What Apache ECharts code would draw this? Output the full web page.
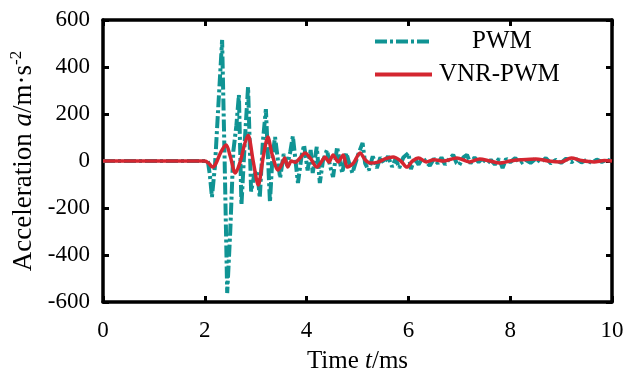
<!DOCTYPE html>
<html>
<head>
<meta charset="utf-8">
<script src="https://cdn.jsdelivr.net/npm/echarts@6/dist/echarts.min.js"></script>
<style>html,body{margin:0;padding:0;background:#fff}#c{width:624px;height:376px}</style>
</head>
<body>
<div id="c"></div>
<script>
var xTicks = [0, 2, 4, 6, 8, 10];
var yTicks = [-600, -400, -200, 0, 200, 400, 600];
var seriesNames = ['PWM', 'VNR-PWM'];

var pwmT = [0, 2.0, 2.06, 2.10, 2.14, 2.2, 2.27, 2.34, 2.39, 2.44, 2.5, 2.56, 2.62, 2.67, 2.72, 2.79, 2.85, 2.91, 2.97, 3.03, 3.08, 3.14, 3.2, 3.28, 3.33, 3.38, 3.48, 3.55, 3.62, 3.68, 3.73, 3.83, 3.9, 3.95, 4.02, 4.08, 4.12, 4.2, 4.26, 4.32, 4.4, 4.46, 4.52, 4.6, 4.65, 4.7, 4.78, 4.85, 4.9, 5.0, 5.1, 5.15, 5.22, 5.3, 5.38, 5.45, 5.52, 5.6, 5.68, 5.75, 5.82, 5.9, 6.0, 6.05, 6.12, 6.2, 6.28, 6.35, 6.42, 6.5, 6.58, 6.65, 6.72, 6.8, 6.88, 6.95, 7.0, 7.08, 7.15, 7.22, 7.3, 7.38, 7.45, 7.55, 7.62, 7.7, 7.78, 7.85, 7.92, 8.0, 8.1, 8.2, 8.3, 8.4, 8.5, 8.6, 8.7, 8.8, 8.9, 9.0, 9.1, 9.2, 9.3, 9.4, 9.5, 9.6, 9.7, 9.8, 9.9, 10];
var pwmA = [0, 0, 0, -60, -153, -20, 250, 515, 0, -562, -300, 40, 150, 281, -187, 100, 315, -130, -60, -40, -157, 80, 221, -175, 20, 102, -72, 30, -20, 40, 106, -94, 20, 68, -40, 47, -51, 60, -94, 0, 47, -20, -68, 60, 0, -51, 34, -20, -51, 20, 77, -10, -40, 20, -30, 15, -10, 20, -25, 10, -30, 15, 34, -35, 10, -15, 15, -5, -20, 10, -10, 15, -15, 8, 26, -10, -17, 15, 26, -10, 15, -5, 10, -10, 5, -15, 10, -30, 10, -5, 12, -10, 5, -8, 10, -5, 12, -10, 5, -8, 10, -5, 8, -6, 5, -8, 6, -4, 5, 0];

var vnrT = [0, 2.0, 2.08, 2.15, 2.22, 2.32, 2.42, 2.5, 2.6, 2.7, 2.78, 2.85, 2.95, 3.05, 3.15, 3.24, 3.32, 3.44, 3.5, 3.57, 3.63, 3.7, 3.78, 3.88, 3.97, 4.08, 4.2, 4.3, 4.36, 4.44, 4.52, 4.62, 4.72, 4.8, 4.92, 5.05, 5.15, 5.25, 5.4, 5.55, 5.7, 5.85, 5.97, 6.08, 6.2, 6.35, 6.5, 6.7, 6.95, 7.2, 7.4, 7.6, 7.8, 8.0, 8.2, 8.5, 8.75, 9.0, 9.2, 9.4, 9.65, 9.85, 10];
var vnrA = [0, 0, -10, -26, -10, 40, 68, 20, -51, 0, 70, 110, 0, -102, 20, 102, 30, -38, -20, 13, -26, 0, -5, 15, 34, 10, -26, 0, 17, -5, 26, -4, 26, -26, -9, 34, 5, -9, -5, 10, 17, 0, -26, 0, 13, -4, 5, 0, 13, -4, 9, 0, -9, 0, 5, 9, 0, -4, 13, 2, -4, 2, 0];

function pairs(t, a) { return t.map(function (v, i) { return [v, a[i]]; }); }

var FONT = 'Liberation Serif';
var TEAL = '#109494';
var RED = '#d42630';
var chart = echarts.init(document.getElementById('c'), null, {renderer: 'canvas'});
var axisLine = {show: true, onZero: false, lineStyle: {color: '#000', width: 3.5}};
var axisTick = {show: true, inside: true, length: 6, lineStyle: {color: '#000', width: 3}};

chart.setOption({
  animation: false,
  backgroundColor: '#fff',
  grid: {left: 103, right: 12, top: 20, bottom: 74, containLabel: false, outerBoundsMode: 'none'},
  legend: {
    orient: 'vertical', left: 368, top: 24, itemGap: 8, itemWidth: 57, itemHeight: 18,
    itemStyle: {opacity: 0},
    lineStyle: {width: 4},
    data: [
      {name: seriesNames[0], textStyle: {fontFamily: FONT, fontSize: 25, color: '#000', padding: [0, 0, 0, 35]}},
      {name: seriesNames[1], textStyle: {fontFamily: FONT, fontSize: 25, color: '#000', padding: [0, 0, 0, 2]}}
    ],
    textStyle: {fontFamily: FONT, fontSize: 25, color: '#000'}
  },
  xAxis: [
    {type: 'value', min: xTicks[0], max: xTicks[xTicks.length - 1], interval: 2,
     axisLine: axisLine, axisTick: axisTick, splitLine: {show: false},
     axisLabel: {margin: 17, fontFamily: FONT, fontSize: 23, color: '#000'},
     name: 'Time {i|t}/ms', nameLocation: 'middle', nameGap: 47,
     nameTextStyle: {fontFamily: FONT, fontSize: 25, color: '#000',
       rich: {i: {fontFamily: FONT, fontSize: 25, fontStyle: 'italic', color: '#000'}}}},
    {type: 'value', position: 'top', min: xTicks[0], max: xTicks[xTicks.length - 1], interval: 2,
     axisLine: axisLine, axisTick: axisTick, axisLabel: {show: false}, splitLine: {show: false}}
  ],
  yAxis: [
    {type: 'value', min: yTicks[0], max: yTicks[yTicks.length - 1], interval: 200,
     axisLine: axisLine, axisTick: axisTick, splitLine: {show: false},
     axisLabel: {margin: 13, fontFamily: FONT, fontSize: 23, color: '#000'},
     name: 'Acceleration {i|a}/m·s{s|-2}', nameLocation: 'middle', nameGap: 61,
     nameTextStyle: {fontFamily: FONT, fontSize: 27, color: '#000',
       rich: {i: {fontFamily: FONT, fontSize: 27, fontStyle: 'italic', color: '#000'},
              s: {fontFamily: FONT, fontSize: 17, color: '#000', verticalAlign: 'top', padding: [0, 0, 14, 0]}}}},
    {type: 'value', position: 'right', min: yTicks[0], max: yTicks[yTicks.length - 1], interval: 200,
     axisLine: axisLine, axisTick: axisTick, axisLabel: {show: false}, splitLine: {show: false}}
  ],
  series: [
    {name: seriesNames[0], type: 'line', data: pairs(pwmT, pwmA), symbol: 'none',
     lineStyle: {color: TEAL, width: 4, type: [12, 3, 3, 3]}, itemStyle: {color: TEAL}, z: 2},
    {name: seriesNames[1], type: 'line', data: pairs(vnrT, vnrA), symbol: 'none', smooth: 0.3,
     lineStyle: {color: RED, width: 3.5}, itemStyle: {color: RED}, z: 3}
  ]
});
</script>
</body>
</html>
